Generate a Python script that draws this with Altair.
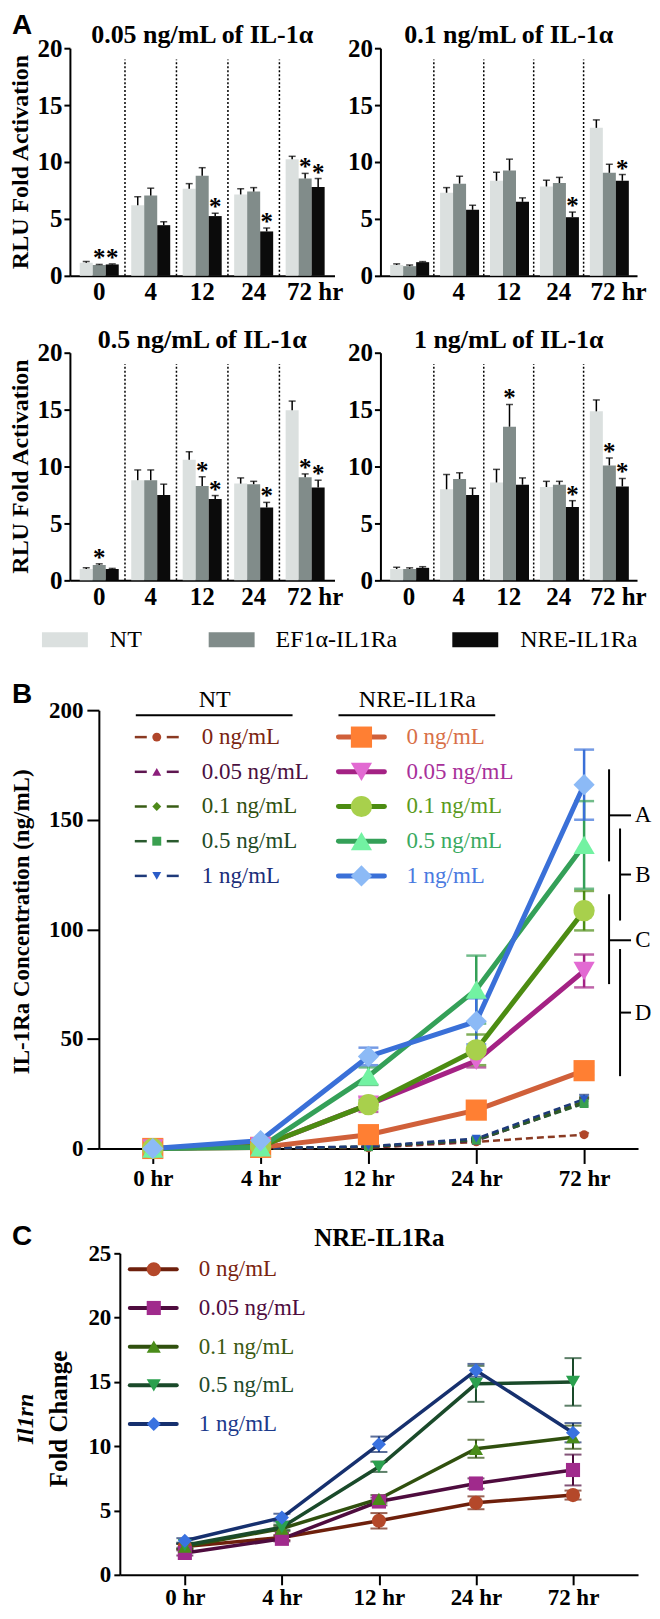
import json
import altair as alt
import pandas as pd

SERIF = "'Liberation Serif', 'Times New Roman', 'DejaVu Serif', serif"
SANS = "'Liberation Sans', Arial, 'DejaVu Sans', sans-serif"

# ============================ DATA ============================
# ---- Panel A (luciferase, bars) ----
A_times = ["0", "4", "12", "24", "72"]
A_groups = ["NT", "EF1α-IL1Ra", "NRE-IL1Ra"]
A_titles = ["0.05 ng/mL of IL-1α", "0.1 ng/mL of IL-1α", "0.5 ng/mL of IL-1α", "1 ng/mL of IL-1α"]
A_bar_colors = ["#dbe0df", "#818c8a", "#0b0b0b"]

# rows: NT, EF1a-IL1Ra, NRE-IL1Ra ; columns: 0, 4, 12, 24, 72 hr
A_mean_005 = [[1.15, 6.2, 7.65, 7.15, 10.25], [0.95, 7.05, 8.8, 7.4, 8.55], [1.0, 4.45, 5.25, 3.9, 7.8]]
A_upper_005 = [[1.25, 6.95, 8.1, 7.65, 10.5], [1.0, 7.7, 9.5, 7.75, 9.0], [1.05, 4.75, 5.5, 4.2, 8.55]]
A_star_005 = [[0, 0, 0, 0, 0], [1, 0, 0, 0, 1], [1, 0, 1, 1, 1]]

A_mean_01 = [[0.95, 7.3, 8.35, 7.85, 13.0], [0.85, 8.1, 9.25, 8.15, 9.05], [1.2, 5.8, 6.5, 5.15, 8.35]]
A_upper_01 = [[1.05, 7.75, 9.1, 8.4, 13.7], [0.95, 8.75, 10.25, 8.65, 9.8], [1.25, 6.2, 6.85, 5.6, 8.9]]
A_star_01 = [[0, 0, 0, 0, 0], [0, 0, 0, 0, 0], [0, 0, 0, 1, 1]]

A_mean_05 = [[1.0, 8.8, 10.6, 8.5, 14.95], [1.35, 8.8, 8.3, 8.45, 9.05], [1.0, 7.5, 7.15, 6.4, 8.15]]
A_upper_05 = [[1.1, 9.7, 11.3, 9.0, 15.75], [1.45, 9.7, 9.1, 8.7, 9.35], [1.05, 8.45, 7.45, 6.85, 8.8]]
A_star_05 = [[0, 0, 0, 0, 0], [1, 0, 1, 0, 1], [0, 0, 1, 1, 1]]

A_mean_1 = [[1.0, 8.0, 8.6, 8.2, 14.85], [1.0, 8.9, 13.5, 8.4, 10.1], [1.1, 7.5, 8.4, 6.45, 8.25]]
A_upper_1 = [[1.15, 9.3, 9.75, 8.7, 15.85], [1.1, 9.45, 15.45, 8.7, 10.75], [1.2, 8.1, 9.0, 7.0, 8.95]]
A_star_1 = [[0, 0, 0, 0, 0], [0, 0, 1, 0, 1], [0, 0, 0, 1, 1]]

A_separator_top = 19

# ---- Panel B (IL-1Ra concentration) ----
B_time_labels = ["0 hr", "4 hr", "12 hr", "24 hr", "72 hr"]
conc_labels = ["0 ng/mL", "0.05 ng/mL", "0.1 ng/mL", "0.5 ng/mL", "1 ng/mL"]

B_nt_mean = [[0, 0, 0.3, 3.0, 6.3], [0, 0, 0.6, 3.5, 21.0], [0, 0, 0.8, 4.0, 21.5],
             [0, 0, 0.8, 3.8, 20.5], [0, 0, 1.0, 4.5, 22.5]]
B_nt_sem = [[0, 0, 0.2, 0.5, 0.8], [0, 0, 0.3, 0.8, 2.0], [0, 0, 0.3, 0.8, 2.0],
            [0, 0, 0.3, 0.8, 2.0], [0, 0, 0.3, 0.8, 2.0]]
B_nre_mean = [[0, 0.5, 6.3, 17.5, 35.5], [0, 1.0, 20.0, 40.0, 81.0], [0, 1.0, 20.0, 45.0, 108.5],
              [0, 0.5, 33.0, 72.5, 138.5], [0, 3.6, 42.0, 58.0, 166.0]]
B_nre_sem = [[0, 0.3, 1.0, 1.5, 2.0], [0, 0.3, 3.3, 3.0, 7.5], [0, 0.3, 2.0, 7.0, 9.0],
             [0, 0.3, 4.0, 15.5, 20.0], [0, 0.5, 4.0, 10.5, 16.0]]

B_nt_line = ["#8a3a22", "#5e1650", "#385c14", "#2a5a2e", "#1e3a7a"]
B_nt_marker = ["#b0462a", "#8c1f7c", "#4e8a1a", "#3aa050", "#2a5cc8"]
B_nt_text = ["#7a2410", "#4a1040", "#2f5010", "#1e4a26", "#1a2e7a"]
B_nt_shapes = ["circle", "triangle-up", "diamond", "square", "triangle-down"]

B_nre_line = ["#d0603a", "#a42284", "#4c8c12", "#34a058", "#3a70d8"]
B_nre_marker = ["#ff7f33", "#e26ad2", "#a8d04c", "#72f2a2", "#8cbaf6"]
B_nre_text = ["#d87048", "#a8309a", "#5a9a20", "#3aaa60", "#4a7ae0"]
B_nre_shapes = ["square", "triangle-down", "circle", "triangle-up", "diamond"]

B_bracket_letters = ["A", "B", "C", "D"]
B_bracket_top = [173, 146, 116, 91]
B_bracket_bottom = [131, 104, 75, 33]
B_bracket_mid = [152, 125, 95, 62]
B_bracket_side = [0, 1, 0, 1]

# ---- Panel C (Il1rn fold change) ----
C_mean = [[2.2, 2.9, 4.2, 5.6, 6.2], [1.7, 2.8, 5.7, 7.1, 8.15], [2.2, 3.6, 5.9, 9.8, 10.7],
          [2.3, 3.7, 8.4, 14.85, 15.0], [2.65, 4.45, 10.15, 15.9, 11.05]]
C_sem = [[0.2, 0.2, 0.6, 0.5, 0.35], [0.2, 0.2, 0.3, 0.4, 1.2], [0.2, 0.2, 0.3, 0.7, 0.9],
         [0.2, 0.2, 0.4, 1.4, 1.85], [0.2, 0.3, 0.6, 0.5, 0.75]]
C_line = ["#6e200c", "#4e0c3e", "#30500e", "#1a4a2a", "#16306e"]
C_marker = ["#b4482a", "#a02a8c", "#4a8c1a", "#2aa04e", "#3a72e0"]
C_text = ["#7a2410", "#4e0c3e", "#3a5a12", "#1e4a2a", "#1c3a8c"]
C_shapes = ["circle", "square", "triangle-up", "triangle-down", "diamond"]

# ============================ HELPERS ============================
one = pd.DataFrame({"k": [0]})


def vtext(txt, x, y, size, weight="normal", color="black", align="center",
          baseline="middle", angle=0, font=SERIF, style="normal"):
    return alt.Chart(one).mark_text(
        text=txt, font=font, fontSize=size, fontWeight=weight, fontStyle=style,
        color=color, align=align, baseline=baseline, angle=angle
    ).encode(x=alt.value(x), y=alt.value(y))


def vrule(x, x2, y, y2, color="black", width=2.0, cap="butt", opacity=1.0):
    return alt.Chart(one).mark_rule(
        color=color, strokeWidth=width, strokeCap=cap, strokeOpacity=opacity
    ).encode(x=alt.value(x), x2=alt.value(x2), y=alt.value(y), y2=alt.value(y2))


def vrect(x, x2, y, y2, color):
    return alt.Chart(one).mark_rect(color=color).encode(
        x=alt.value(x), x2=alt.value(x2), y=alt.value(y), y2=alt.value(y2))


def vpoint(x, y, shape, size, fill):
    return alt.Chart(one).mark_point(
        shape=shape, size=size, filled=True, fill=fill, opacity=1, strokeWidth=0
    ).encode(x=alt.value(x), y=alt.value(y))


def pad_rule(x, top, bottom):
    # invisible rule that fixes the vertical extent of a row
    return vrule(x, x, -top, bottom, opacity=0, width=1)


# ============================ PANEL A ============================
A_H = 228


def bar_panel(mean, upper, star, title, width, ytitle, letter, pad_top, pad_bottom):
    rows = []
    for gi, g in enumerate(A_groups):
        for ti, t in enumerate(A_times):
            rows.append(dict(time=t, group=g, mean=mean[gi][ti],
                             upper=upper[gi][ti], star=star[gi][ti]))
    df = pd.DataFrame(rows)
    xscale = alt.Scale(domain=A_times, paddingInner=0, paddingOuter=0.07)
    xaxis = alt.Axis(title=None, ticks=False, domainWidth=2, domainColor="black",
                     labelAngle=0, labelFont=SERIF, labelFontWeight="bold",
                     labelFontSize=25, labelColor="black", labelPadding=4,
                     labelExpr="datum.value == '72' ? '72 hr' : datum.value",
                     labelOffset={"condition": {"test": "datum.value == '72'", "value": 10}, "value": 0})
    yscale = alt.Scale(domain=[0, 20], nice=False)
    yaxis = alt.Axis(title=None, values=[0, 5, 10, 15, 20], grid=False, tickSize=6,
                     tickWidth=2, tickColor="black", domainWidth=2, domainColor="black",
                     labelFont=SERIF, labelFontWeight="bold", labelFontSize=25,
                     labelColor="black", labelPadding=2, labelFlush=False)
    X = alt.X("time:N", scale=xscale, axis=xaxis, sort=A_times)
    XO = alt.XOffset("group:N", sort=A_groups,
                     scale=alt.Scale(domain=A_groups, paddingInner=0, paddingOuter=0.48))

    def Y(f):
        return alt.Y(f, scale=yscale, axis=yaxis)

    base = alt.Chart(df)
    bars = base.mark_bar().encode(
        x=X, xOffset=XO, y=Y("mean:Q"),
        color=alt.Color("group:N", scale=alt.Scale(domain=A_groups, range=A_bar_colors), legend=None))
    err = base.mark_rule(color="black", strokeWidth=1.5).encode(
        x=X, xOffset=XO, y=Y("mean:Q"), y2="upper:Q")
    cap = base.mark_tick(color="black", orient="horizontal", size=7, thickness=1.5).encode(
        x=X, xOffset=XO, y=Y("upper:Q"))
    stars = base.transform_filter("datum.star == 1").mark_text(
        text="*", font=SERIF, fontWeight="bold", fontSize=25, color="black",
        baseline="middle", dy=-6).encode(x=X, xOffset=XO, y=Y("upper:Q"))
    sep_df = pd.DataFrame({"time": A_times[1:], "lo": [0] * 4, "hi": [A_separator_top] * 4})
    seps = alt.Chart(sep_df).mark_rule(color="black", strokeWidth=1.5, strokeDash=[2, 2]).encode(
        x=alt.X("time:N", scale=xscale, axis=xaxis, sort=A_times, bandPosition=0),
        y=Y("lo:Q"), y2="hi:Q")
    layers = [seps, bars, err, cap, stars,
              vtext(title, width / 2, -13, 26, weight="bold"),
              pad_rule(width / 2, pad_top, A_H + pad_bottom)]
    if ytitle:
        layers.append(vtext("RLU Fold Activation", -49, A_H / 2, 24, weight="bold", angle=270))
    if letter:
        layers.append(vtext(letter, -58, -36, 28, weight="bold", font=SANS,
                            align="left", baseline="top"))
    return alt.layer(*layers).properties(width=width, height=A_H)


row1 = alt.hconcat(
    bar_panel(A_mean_005, A_upper_005, A_star_005, A_titles[0], 265, True, "A", 39, 35),
    bar_panel(A_mean_01, A_upper_01, A_star_01, A_titles[1], 257, False, None, 39, 35),
    spacing=46, bounds="flush")
row2 = alt.hconcat(
    bar_panel(A_mean_05, A_upper_05, A_star_05, A_titles[2], 265, True, None, 42, 35),
    bar_panel(A_mean_1, A_upper_1, A_star_1, A_titles[3], 257, False, None, 42, 35),
    spacing=46, bounds="flush")

# legend row for panel A
LA_sw_x = [-28, 139, 383]
LA_tx = [40, 206, 451]
legA_layers = [pad_rule(284, 15, 20 + 20)]
for i, g in enumerate(A_groups):
    legA_layers.append(vrect(LA_sw_x[i], LA_sw_x[i] + 46, 2, 17, A_bar_colors[i]))
    legA_layers.append(vtext(g, LA_tx[i], 10, 24, align="left"))
legA = alt.layer(*legA_layers).properties(width=569, height=20)

# ============================ PANEL B ============================
B_W, B_H = 540, 439
keys_nt = ["NT " + c for c in conc_labels]
keys_nre = ["NRE " + c for c in conc_labels]
keysB = keys_nt + keys_nre
rows = []
for i in range(5):
    for t in range(5):
        m, s = B_nt_mean[i][t], B_nt_sem[i][t]
        rows.append(dict(key=keys_nt[i], grp="NT", t=t, mean=m, lo=m - s, hi=m + s))
for i in range(5):
    for t in range(5):
        m, s = B_nre_mean[i][t], B_nre_sem[i][t]
        rows.append(dict(key=keys_nre[i], grp="NRE", t=t, mean=m, lo=m - s, hi=m + s))
dfB = pd.DataFrame(rows)

lab_expr_B = json.dumps(B_time_labels) + "[datum.value]"
axB_x = alt.Axis(title=None, values=[0, 1, 2, 3, 4], labelExpr=lab_expr_B, grid=False,
                 tickSize=15, tickWidth=2, tickColor="black", domainWidth=2, domainColor="black",
                 labelFont=SERIF, labelFontWeight="bold", labelFontSize=23, labelColor="black",
                 labelPadding=4, labelFlush=False)
axB_y = alt.Axis(title=None, values=[0, 50, 100, 150, 200], grid=False, tickSize=12, tickWidth=2,
                 tickColor="black", domainWidth=2, domainColor="black", labelFont=SERIF,
                 labelFontWeight="bold", labelFontSize=23, labelColor="black", labelPadding=4,
                 labelFlush=False)
xB = alt.X("t:Q", scale=alt.Scale(domain=[-0.5, 4.5], nice=False, zero=False), axis=axB_x)
yscaleB = alt.Scale(domain=[0, 200], nice=False)


def yB(f):
    return alt.Y(f, scale=yscaleB, axis=axB_y)


colB = alt.Color("key:N", scale=alt.Scale(domain=keysB, range=B_nt_line + B_nre_line), legend=None)
fillB = alt.Fill("key:N", scale=alt.Scale(domain=keysB, range=B_nt_marker + B_nre_marker), legend=None)
shapeB = alt.Shape("key:N", scale=alt.Scale(domain=keysB, range=B_nt_shapes + B_nre_shapes), legend=None)

baseB = alt.Chart(dfB)
nt = baseB.transform_filter("datum.grp == 'NT'")
nre = baseB.transform_filter("datum.grp == 'NRE'")
B_layers = [
    nt.transform_filter("datum.hi > datum.lo").mark_rule(strokeWidth=2).encode(
        x=xB, y=yB("lo:Q"), y2="hi:Q", color=colB),
    nt.transform_filter("datum.hi > datum.lo").mark_tick(orient="horizontal", size=10, thickness=2).encode(
        x=xB, y=yB("hi:Q"), color=colB),
    nt.mark_line(strokeWidth=2.5, strokeDash=[7, 4]).encode(x=xB, y=yB("mean:Q"), color=colB),
    nt.mark_point(filled=True, size=80, opacity=1, strokeWidth=0).encode(
        x=xB, y=yB("mean:Q"), fill=fillB, shape=shapeB),
    nre.transform_filter("datum.hi > datum.lo").mark_rule(strokeWidth=2.5).encode(
        x=xB, y=yB("lo:Q"), y2="hi:Q", color=colB),
    nre.transform_filter("datum.hi > datum.lo").mark_tick(orient="horizontal", size=20, thickness=2.5).encode(
        x=xB, y=yB("hi:Q"), color=colB),
    nre.transform_filter("datum.hi > datum.lo").mark_tick(orient="horizontal", size=20, thickness=2.5).encode(
        x=xB, y=yB("lo:Q"), color=colB),
    nre.mark_line(strokeWidth=5).encode(x=xB, y=yB("mean:Q"), color=colB),
    nre.mark_point(filled=True, size=450, opacity=1, strokeWidth=0).encode(
        x=xB, y=yB("mean:Q"), fill=fillB, shape=shapeB),
]

# significance brackets
brk = pd.DataFrame({"letter": B_bracket_letters, "top": B_bracket_top, "bottom": B_bracket_bottom,
                    "mid": B_bracket_mid, "side": B_bracket_side})
brk_x = [511, 522]
for side in (0, 1):
    bs = alt.Chart(brk).transform_filter(f"datum.side == {side}")
    B_layers.append(bs.mark_rule(color="black", strokeWidth=2).encode(
        x=alt.value(brk_x[side]), y=yB("top:Q"), y2="bottom:Q"))
    B_layers.append(bs.mark_rule(color="black", strokeWidth=2).encode(
        x=alt.value(brk_x[side]), x2=alt.value(533), y=yB("mid:Q")))
B_layers.append(alt.Chart(brk).mark_text(font=SERIF, fontSize=23, color="black",
                                         baseline="middle", align="center").encode(
    x=alt.value(545), y=yB("mid:Q"), text="letter:N"))

# legend for B
B_leg_y0, B_leg_dy = 27, 34.75
B_layers += [
    vtext("NT", 116, -10, 24), vtext("NRE-IL1Ra", 319, -10, 24),
    vrule(37, 194, 5, 5, width=2), vrule(240, 397, 5, 5, width=2),
]
for i, c in enumerate(conc_labels):
    yy = B_leg_y0 + i * B_leg_dy
    B_layers += [
        vrule(36, 48, yy, yy, color=B_nt_line[i], width=2.5),
        vrule(68, 80, yy, yy, color=B_nt_line[i], width=2.5),
        vpoint(58, yy, B_nt_shapes[i], 80, B_nt_marker[i]),
        vtext(c, 103, yy, 23, color=B_nt_text[i], align="left"),
        vrule(240, 286, yy, yy, color=B_nre_line[i], width=5, cap="round"),
        vpoint(263, yy, B_nre_shapes[i], 450, B_nre_marker[i]),
        vtext(c, 308, yy, 23, color=B_nre_text[i], align="left"),
    ]
B_layers += [
    vtext("IL-1Ra Concentration (ng/mL)", -77, 212, 23, weight="bold", angle=270),
    vtext("B", -87, -15, 28, weight="bold", font=SANS, align="left"),
    pad_rule(B_W / 2, 40, B_H + 55),
]
chartB = alt.layer(*B_layers).properties(width=B_W, height=B_H)
spacerB = alt.Chart(one).mark_point(opacity=0).encode(
    x=alt.value(0), y=alt.value(0)).properties(width=29, height=1)
rowB = alt.hconcat(spacerB, chartB, spacing=0, bounds="flush")

# ============================ PANEL C ============================
C_W, C_H = 519, 322
keysC = ["C " + c for c in conc_labels]
rows = []
for i in range(5):
    for t in range(5):
        m, s = C_mean[i][t], C_sem[i][t]
        rows.append(dict(key=keysC[i], t=t, mean=m, lo=m - s, hi=m + s))
dfC = pd.DataFrame(rows)
axC_x = alt.Axis(title=None, values=[0, 1, 2, 3, 4], labelExpr=lab_expr_B, grid=False,
                 tickSize=10, tickWidth=2, tickColor="black", domainWidth=2, domainColor="black",
                 labelFont=SERIF, labelFontWeight="bold", labelFontSize=23, labelColor="black",
                 labelPadding=2, labelFlush=False)
axC_y = alt.Axis(title=None, values=[0, 5, 10, 15, 20, 25], grid=False, tickSize=6, tickWidth=2,
                 tickColor="black", domainWidth=2, domainColor="black", labelFont=SERIF,
                 labelFontWeight="bold", labelFontSize=23, labelColor="black", labelPadding=3,
                 labelFlush=False)
xC = alt.X("t:Q", scale=alt.Scale(domain=[-0.67, 4.67], nice=False, zero=False), axis=axC_x)
yscaleC = alt.Scale(domain=[0, 25], nice=False)


def yC(f):
    return alt.Y(f, scale=yscaleC, axis=axC_y)


colC = alt.Color("key:N", scale=alt.Scale(domain=keysC, range=C_line), legend=None)
fillC = alt.Fill("key:N", scale=alt.Scale(domain=keysC, range=C_marker), legend=None)
shapeC = alt.Shape("key:N", scale=alt.Scale(domain=keysC, range=C_shapes), legend=None)
baseC = alt.Chart(dfC)
C_layers = [
    baseC.mark_rule(strokeWidth=2).encode(x=xC, y=yC("lo:Q"), y2="hi:Q", color=colC),
    baseC.mark_tick(orient="horizontal", size=17, thickness=2).encode(x=xC, y=yC("hi:Q"), color=colC),
    baseC.mark_tick(orient="horizontal", size=17, thickness=2).encode(x=xC, y=yC("lo:Q"), color=colC),
    baseC.mark_line(strokeWidth=3.5).encode(x=xC, y=yC("mean:Q"), color=colC),
    baseC.mark_point(filled=True, size=200, opacity=1, strokeWidth=0).encode(
        x=xC, y=yC("mean:Q"), fill=fillC, shape=shapeC),
]
C_leg_y0, C_leg_dy = 16, 38.75
for i, c in enumerate(conc_labels):
    yy = C_leg_y0 + i * C_leg_dy
    C_layers += [
        vrule(10, 57, yy, yy, color=C_line[i], width=4, cap="round"),
        vpoint(34, yy, C_shapes[i], 200, C_marker[i]),
        vtext(c, 79, yy, 23, color=C_text[i], align="left"),
    ]
C_layers += [
    vtext("NRE-IL1Ra", 260, -15, 25, weight="bold"),
    vtext("Il1rn", -94, 166, 24, weight="bold", style="italic", angle=270),
    vtext("Fold Change", -61, 166, 25, weight="bold", angle=270),
    vtext("C", -108, -16, 28, weight="bold", font=SANS, align="left"),
    pad_rule(C_W / 2, 50, C_H + 35),
]
chartC = alt.layer(*C_layers).properties(width=C_W, height=C_H)
spacerC = alt.Chart(one).mark_point(opacity=0).encode(
    x=alt.value(0), y=alt.value(0)).properties(width=50, height=1)
rowC = alt.hconcat(spacerC, chartC, spacing=0, bounds="flush")

# ============================ ASSEMBLY ============================
chart = alt.vconcat(row1, row2, legA, rowB, rowC, spacing=0).resolve_scale(
    color="independent", fill="independent", shape="independent"
).properties(
    padding=0, background="white"
).configure_view(stroke=None)

chart.save("out.html", embed_options={"renderer": "svg", "actions": False})
